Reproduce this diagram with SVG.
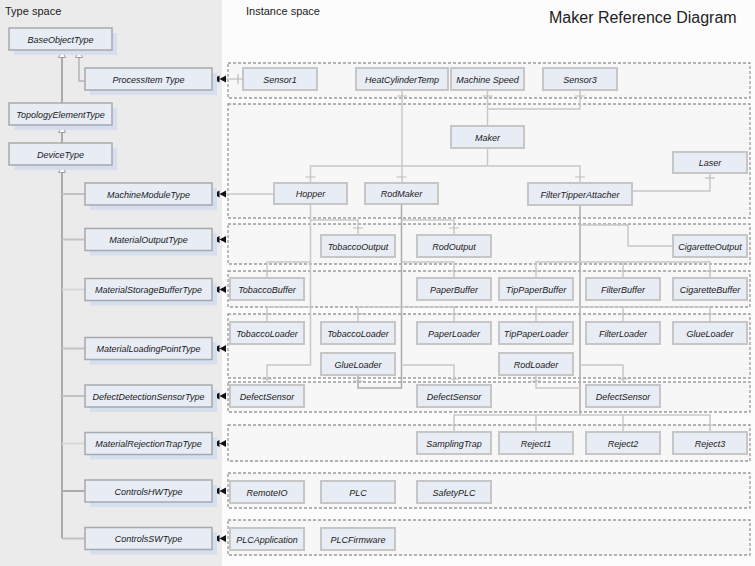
<svg xmlns="http://www.w3.org/2000/svg" width="755" height="566" viewBox="0 0 755 566">
<defs>
<style>
.bg-left{fill:#ebebeb}
.bg-right{fill:#fcfcfc}
.title{font-family:"Liberation Sans",Arial,sans-serif;fill:#222}
.grp{fill:#f7f7f7;stroke:#9a9a9a;stroke-width:1.3;stroke-dasharray:3 2}
.tshadow{fill:#d5dff0}
.tnode{fill:#e7ecf5;stroke:#a9a9a9;stroke-width:1.5}
.inode{fill:#e8ecf4;stroke:#c6c6c6;stroke-width:2}
.lbl{font-family:"Liberation Sans",Arial,sans-serif;font-size:9px;font-style:italic;fill:#1a1a1a;text-anchor:middle}
.inh{fill:none;stroke:#ababab;stroke-width:2}
.inh2{fill:none;stroke:#c2c2c2;stroke-width:2}
.inh3{fill:none;stroke:#d9d9d9;stroke-width:2}
.c{fill:none;stroke:#c8c8c8;stroke-width:1.5}
.ct{fill:none;stroke:#adadad;stroke-width:1.5}
.tk{fill:none;stroke:#bdbdbd;stroke-width:1.2}
</style>
<path id="tri" d="M0,0 L3.5,6.5 L-3.5,6.5 Z" fill="#ffffff" stroke="#a0a0a0" stroke-width="1"/>
<path id="dbl" d="M0,0 L6.5,-3.5 L6.5,3.5 Z M6.5,0 L13,-3.5 L13,3.5 Z" fill="#111111"/>
</defs>

<rect class="bg-right" x="0" y="0" width="755" height="566"/>
<rect class="bg-left" x="0" y="0" width="222" height="566"/>

<text class="title" x="5" y="15" font-size="11">Type space</text>
<text class="title" x="246" y="15" font-size="11">Instance space</text>
<text class="title" x="549" y="23" font-size="16">Maker Reference Diagram</text>

<g id="instance-groups">
<rect class="grp" x="228" y="63" width="522" height="35"/>
<rect class="grp" x="228" y="104" width="522" height="114"/>
<rect class="grp" x="228" y="224" width="522" height="40"/>
<rect class="grp" x="228" y="271" width="522" height="36"/>
<rect class="grp" x="228" y="314" width="522" height="64"/>
<rect class="grp" x="228" y="382" width="522" height="30"/>
<rect class="grp" x="228" y="425" width="522" height="36"/>
<rect class="grp" x="228" y="473" width="522" height="35"/>
<rect class="grp" x="228" y="520" width="522" height="35"/>
</g>

<g id="connectors">
<!-- type space inheritance -->
<path class="inh" d="M62,56 V103"/>
<path class="inh2" d="M79,56 V81 H85"/>
<path class="inh" d="M62,131 V143"/>
<path class="inh" d="M62,171 V538.5"/>
<path class="inh2" d="M62,194 H85"/>
<path class="inh2" d="M62,239.5 H85"/>
<path class="inh3" d="M62,289.5 H85"/>
<path class="inh2" d="M62,348.5 H85"/>
<path class="inh2" d="M62,396 H85"/>
<path class="inh3" d="M62,443.5 H85"/>
<path class="inh" d="M62,491 H85"/>
<path class="inh2" d="M62,538.5 H85"/>
<use href="#tri" x="62" y="51"/>
<use href="#tri" x="79" y="51"/>
<use href="#tri" x="62" y="126"/>
<use href="#tri" x="62" y="166"/>

<!-- type definition references -->
<path class="c" d="M243,79 H224"/>
<path class="c" d="M274,194 H224"/>
<use href="#dbl" x="213" y="79"/>
<use href="#dbl" x="213" y="194"/>
<use href="#dbl" x="213" y="239.5"/>
<use href="#dbl" x="213" y="289.5"/>
<use href="#dbl" x="213" y="348.5"/>
<use href="#dbl" x="213" y="396"/>
<use href="#dbl" x="213" y="443.5"/>
<use href="#dbl" x="213" y="491"/>
<use href="#dbl" x="213" y="538.5"/>
<path class="tk" d="M238,74 V84"/>

<!-- process items -->
<path class="c" d="M402,90 V183"/>
<path class="c" d="M487.5,90 V126"/>
<path class="c" d="M580,90 V109 H487.5"/>
<path class="tk" d="M397,96 H407 M482.5,96 H492.5 M575,96 H585"/>

<!-- maker -->
<path class="c" d="M487.5,148 V166"/>
<path class="c" d="M310.5,183 V166 H580 V183"/>
<path class="tk" d="M305.5,177 H315.5 M396.5,177 H406.5 M575,177 H585"/>
<path class="c" d="M710,173 V191 H632"/>
<path class="tk" d="M705,178 H715"/>

<!-- hopper -->
<path class="c" d="M310.5,204 V365 H267 V382"/>
<path class="c" d="M310.5,220 H358 V235"/>
<path class="c" d="M310.5,262 H267 V278"/>
<path class="c" d="M310.5,307 H267 V322"/>
<path class="tk" d="M353,228 H363 M262,271 H272 M262,314 H272 M262,379 H272"/>

<!-- rodmaker -->
<path class="ct" d="M401.5,204 V388 H358 V375"/>
<path class="c" d="M401.5,220 H454 V235"/>
<path class="c" d="M401.5,262 H454 V278"/>
<path class="c" d="M358,322 V307 H454 V322"/>
<path class="c" d="M401.5,365 H454 V382"/>
<path class="tk" d="M449,228 H459 M449,271 H459 M353,314 H363 M449,314 H459 M449,379 H459 M353,381 H363"/>

<!-- filter tipper attacher -->
<path class="ct" d="M580,205 V415"/>
<path class="c" d="M580,225 H628 V246 H673"/>
<path class="c" d="M536,278 V262 H710 V278"/>
<path class="c" d="M623,262 V278"/>
<path class="c" d="M536,322 V307 H710 V322"/>
<path class="c" d="M623,307 V322"/>
<path class="c" d="M580,365 H623 V382"/>
<path class="c" d="M580,388 H536 V375"/>
<path class="c" d="M454,432 V415 H710 V432"/>
<path class="c" d="M536,415 V432 M623,415 V432"/>
<path class="tk" d="M531,271 H541 M618,271 H628 M705,271 H715 M531,314 H541 M618,314 H628 M705,314 H715 M618,379 H628 M531,381 H541 M449,425 H459 M531,425 H541 M618,425 H628 M705,425 H715"/>
</g>

<!-- type nodes -->
<g id="BaseObjectType"><rect class="tshadow" x="14" y="33" width="103" height="22"/><rect class="tnode" x="9" y="28" width="103" height="22"/><text class="lbl" x="60.5" y="42.5">BaseObjectType</text></g>
<g id="ProcessItemType"><rect class="tshadow" x="90" y="73" width="127" height="22"/><rect class="tnode" x="85" y="68" width="127" height="22"/><text class="lbl" x="148.5" y="82.5">ProcessItem Type</text></g>
<g id="TopologyElementType"><rect class="tshadow" x="14" y="108" width="103" height="22"/><rect class="tnode" x="9" y="103" width="103" height="22"/><text class="lbl" x="60.5" y="117.5">TopologyElementType</text></g>
<g id="DeviceType"><rect class="tshadow" x="14" y="148" width="103" height="22"/><rect class="tnode" x="9" y="143" width="103" height="22"/><text class="lbl" x="60.5" y="157.5">DeviceType</text></g>
<g id="MachineModuleType"><rect class="tshadow" x="90" y="188" width="127" height="22"/><rect class="tnode" x="85" y="183" width="127" height="22"/><text class="lbl" x="148.5" y="197.5">MachineModuleType</text></g>
<g id="MaterialOutputType"><rect class="tshadow" x="90" y="233.5" width="127" height="22"/><rect class="tnode" x="85" y="228.5" width="127" height="22"/><text class="lbl" x="148.5" y="243">MaterialOutputType</text></g>
<g id="MaterialStorageBufferType"><rect class="tshadow" x="90" y="283.5" width="127" height="22"/><rect class="tnode" x="85" y="278.5" width="127" height="22"/><text class="lbl" x="148.5" y="293">MaterialStorageBufferType</text></g>
<g id="MaterialLoadingPointType"><rect class="tshadow" x="90" y="342.5" width="127" height="22"/><rect class="tnode" x="85" y="337.5" width="127" height="22"/><text class="lbl" x="148.5" y="352">MaterialLoadingPointType</text></g>
<g id="DefectDetectionSensorType"><rect class="tshadow" x="90" y="390" width="127" height="22"/><rect class="tnode" x="85" y="385" width="127" height="22"/><text class="lbl" x="148.5" y="399.5">DefectDetectionSensorType</text></g>
<g id="MaterialRejectionTrapType"><rect class="tshadow" x="90" y="437.5" width="127" height="22"/><rect class="tnode" x="85" y="432.5" width="127" height="22"/><text class="lbl" x="148.5" y="447">MaterialRejectionTrapType</text></g>
<g id="ControlsHWType"><rect class="tshadow" x="90" y="485" width="127" height="22"/><rect class="tnode" x="85" y="480" width="127" height="22"/><text class="lbl" x="148.5" y="494.5">ControlsHWType</text></g>
<g id="ControlsSWType"><rect class="tshadow" x="90" y="532.5" width="127" height="22"/><rect class="tnode" x="85" y="527.5" width="127" height="22"/><text class="lbl" x="148.5" y="542">ControlsSWType</text></g>

<!-- instance nodes -->
<g id="Sensor1"><rect class="inode" x="243" y="68" width="74" height="22"/><text class="lbl" x="280" y="82.5">Sensor1</text></g>
<g id="HeatCylinderTemp"><rect class="inode" x="356" y="68" width="92" height="22"/><text class="lbl" x="402" y="82.5">HeatCylinderTemp</text></g>
<g id="MachineSpeed"><rect class="inode" x="451" y="68" width="73" height="22"/><text class="lbl" x="487.5" y="82.5">Machine Speed</text></g>
<g id="Sensor3"><rect class="inode" x="543" y="68" width="74" height="22"/><text class="lbl" x="580" y="82.5">Sensor3</text></g>
<g id="Maker"><rect class="inode" x="451" y="126" width="73" height="22"/><text class="lbl" x="487.5" y="140.5">Maker</text></g>
<g id="Laser"><rect class="inode" x="673" y="152" width="74" height="21"/><text class="lbl" x="710" y="166">Laser</text></g>
<g id="Hopper"><rect class="inode" x="274" y="183" width="73" height="21"/><text class="lbl" x="310.5" y="197">Hopper</text></g>
<g id="RodMaker"><rect class="inode" x="365" y="183" width="73" height="21"/><text class="lbl" x="401.5" y="197">RodMaker</text></g>
<g id="FilterTipperAttacher"><rect class="inode" x="528" y="183" width="104" height="22"/><text class="lbl" x="580" y="197.5">FilterTipperAttacher</text></g>

<g id="TobaccoOutput"><rect class="inode" x="321" y="235" width="74" height="22"/><text class="lbl" x="358" y="249.5">TobaccoOutput</text></g>
<g id="RodOutput"><rect class="inode" x="417" y="235" width="74" height="22"/><text class="lbl" x="454" y="249.5">RodOutput</text></g>
<g id="CigaretteOutput"><rect class="inode" x="673" y="235" width="74" height="22"/><text class="lbl" x="710" y="249.5">CigaretteOutput</text></g>

<g id="TobaccoBuffer"><rect class="inode" x="230" y="278" width="74" height="22"/><text class="lbl" x="267" y="292.5">TobaccoBuffer</text></g>
<g id="PaperBuffer"><rect class="inode" x="417" y="278" width="74" height="22"/><text class="lbl" x="454" y="292.5">PaperBuffer</text></g>
<g id="TipPaperBuffer"><rect class="inode" x="499" y="278" width="74" height="22"/><text class="lbl" x="536" y="292.5">TipPaperBuffer</text></g>
<g id="FilterBuffer"><rect class="inode" x="586" y="278" width="74" height="22"/><text class="lbl" x="623" y="292.5">FilterBuffer</text></g>
<g id="CigaretteBuffer"><rect class="inode" x="673" y="278" width="74" height="22"/><text class="lbl" x="710" y="292.5">CigaretteBuffer</text></g>

<g id="TobaccoLoader1"><rect class="inode" x="230" y="322" width="74" height="22"/><text class="lbl" x="267" y="336.5">TobaccoLoader</text></g>
<g id="TobaccoLoader2"><rect class="inode" x="321" y="322" width="74" height="22"/><text class="lbl" x="358" y="336.5">TobaccoLoader</text></g>
<g id="PaperLoader"><rect class="inode" x="417" y="322" width="74" height="22"/><text class="lbl" x="454" y="336.5">PaperLoader</text></g>
<g id="TipPaperLoader"><rect class="inode" x="499" y="322" width="74" height="22"/><text class="lbl" x="536" y="336.5">TipPaperLoader</text></g>
<g id="FilterLoader"><rect class="inode" x="586" y="322" width="74" height="22"/><text class="lbl" x="623" y="336.5">FilterLoader</text></g>
<g id="GlueLoader2"><rect class="inode" x="673" y="322" width="74" height="22"/><text class="lbl" x="710" y="336.5">GlueLoader</text></g>
<g id="GlueLoader1"><rect class="inode" x="321" y="353" width="74" height="22"/><text class="lbl" x="358" y="367.5">GlueLoader</text></g>
<g id="RodLoader"><rect class="inode" x="499" y="353" width="74" height="22"/><text class="lbl" x="536" y="367.5">RodLoader</text></g>

<g id="DefectSensor1"><rect class="inode" x="230" y="385" width="74" height="22"/><text class="lbl" x="267" y="399.5">DefectSensor</text></g>
<g id="DefectSensor2"><rect class="inode" x="417" y="385" width="74" height="22"/><text class="lbl" x="454" y="399.5">DefectSensor</text></g>
<g id="DefectSensor3"><rect class="inode" x="586" y="385" width="74" height="22"/><text class="lbl" x="623" y="399.5">DefectSensor</text></g>

<g id="SamplingTrap"><rect class="inode" x="417" y="432" width="74" height="22"/><text class="lbl" x="454" y="446.5">SamplingTrap</text></g>
<g id="Reject1"><rect class="inode" x="499" y="432" width="74" height="22"/><text class="lbl" x="536" y="446.5">Reject1</text></g>
<g id="Reject2"><rect class="inode" x="586" y="432" width="74" height="22"/><text class="lbl" x="623" y="446.5">Reject2</text></g>
<g id="Reject3"><rect class="inode" x="673" y="432" width="74" height="22"/><text class="lbl" x="710" y="446.5">Reject3</text></g>

<g id="RemoteIO"><rect class="inode" x="230" y="481" width="74" height="22"/><text class="lbl" x="267" y="495.5">RemoteIO</text></g>
<g id="PLC"><rect class="inode" x="321" y="481" width="74" height="22"/><text class="lbl" x="358" y="495.5">PLC</text></g>
<g id="SafetyPLC"><rect class="inode" x="417" y="481" width="74" height="22"/><text class="lbl" x="454" y="495.5">SafetyPLC</text></g>

<g id="PLCApplication"><rect class="inode" x="230" y="528" width="74" height="22"/><text class="lbl" x="267" y="542.5">PLCApplication</text></g>
<g id="PLCFirmware"><rect class="inode" x="321" y="528" width="74" height="22"/><text class="lbl" x="358" y="542.5">PLCFirmware</text></g>
</svg>
